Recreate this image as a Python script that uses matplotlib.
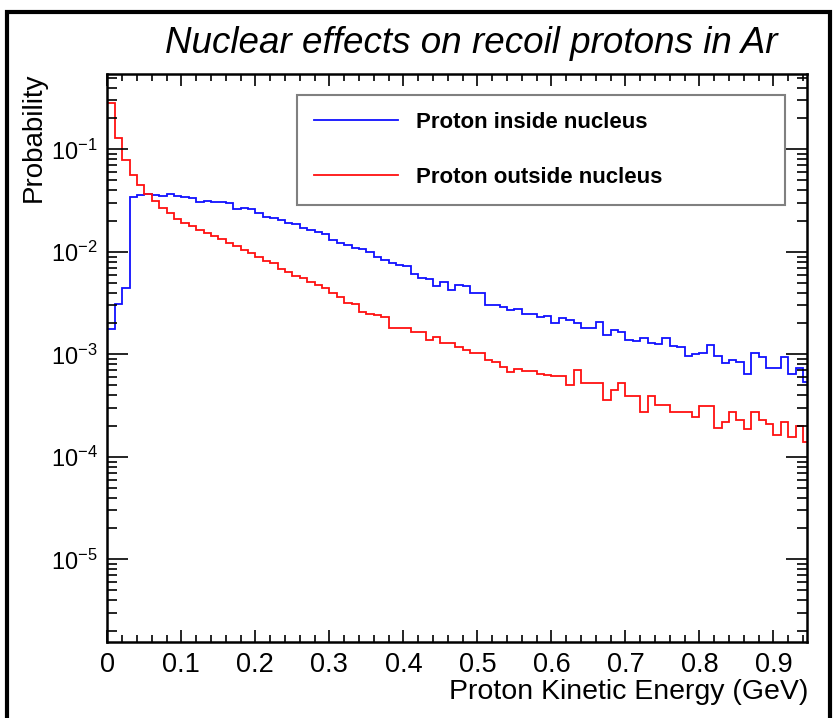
import numpy as np
import matplotlib.pyplot as plt
from matplotlib.patches import Rectangle
from matplotlib.ticker import FixedLocator, MultipleLocator, LogLocator, NullFormatter

plt.rcParams['font.family'] = ['Liberation Sans', 'DejaVu Sans']
plt.rcParams['mathtext.fontset'] = 'custom'
plt.rcParams['mathtext.rm'] = 'Liberation Sans'

# histogram contents, 0.01 GeV bins starting at 0
bin_width = 0.01
proton_inside = [
    0.00177, 0.0031, 0.0044, 0.034, 0.0358, 0.0367, 0.0358, 0.035, 0.0363, 0.035,
    0.034, 0.0332, 0.0308, 0.0316, 0.0308, 0.0305, 0.0297, 0.0263, 0.0267, 0.0263,
    0.024, 0.022, 0.0212, 0.0204, 0.019, 0.0185, 0.0169, 0.0165, 0.0157, 0.0149,
    0.013, 0.0121, 0.0116, 0.011, 0.0106, 0.010, 0.009, 0.0084, 0.0078, 0.0075,
    0.0072, 0.0061, 0.0056, 0.0054, 0.0046, 0.0051, 0.0042, 0.0047, 0.0046, 0.0040,
    0.0040, 0.0030, 0.00305, 0.0029, 0.0027, 0.0028, 0.0025, 0.00247, 0.00233, 0.00236,
    0.0020, 0.00224, 0.00216, 0.0020, 0.0018, 0.0018, 0.00208, 0.00154, 0.00173, 0.00166,
    0.00138, 0.00136, 0.00143, 0.0013, 0.00126, 0.00143, 0.0012, 0.00119, 0.00096, 0.00101,
    0.00102, 0.00123, 0.00096, 0.00083, 0.00089, 0.00085, 0.00065, 0.00104, 0.00095, 0.00073,
    0.00073, 0.00095, 0.00065, 0.00073, 0.00054,
]
proton_outside = [
    0.285, 0.128, 0.079, 0.056, 0.045, 0.037, 0.031, 0.027, 0.024, 0.021,
    0.019, 0.0178, 0.0165, 0.0152, 0.0142, 0.0132, 0.0123, 0.0114, 0.0105, 0.0097,
    0.0090, 0.0082, 0.0077, 0.0068, 0.0064, 0.0058, 0.0055, 0.0051, 0.0048, 0.0044,
    0.0040, 0.0036, 0.0032, 0.0031, 0.0026, 0.0025, 0.0024, 0.0023, 0.0018, 0.0018,
    0.00182, 0.00166, 0.00166, 0.00138, 0.00147, 0.0013, 0.0013, 0.00119, 0.0011, 0.00102,
    0.00102, 0.00089, 0.00085, 0.00076, 0.00068, 0.00072, 0.00069, 0.00069, 0.00065, 0.00063,
    0.00061, 0.00061, 0.0005, 0.00071, 0.00052, 0.00052, 0.00052, 0.00036, 0.00045, 0.00053,
    0.00039, 0.00039, 0.000275, 0.00039, 0.00032, 0.00032, 0.000275, 0.000275, 0.000275, 0.000243,
    0.00031, 0.00031, 0.00019, 0.00022, 0.000275, 0.00023, 0.000185, 0.000275, 0.00023, 0.00021,
    0.000163, 0.00022, 0.000157, 0.0002, 0.00014,
]
labels = ["Proton inside nucleus", "Proton outside nucleus"]
x_ticks = [0, 0.1, 0.2, 0.3, 0.4, 0.5, 0.6, 0.7, 0.8, 0.9]
x_tick_labels = ["0", "0.1", "0.2", "0.3", "0.4", "0.5", "0.6", "0.7", "0.8", "0.9"]
y_ticks = [1e-5, 1e-4, 1e-3, 1e-2, 1e-1]
y_tick_labels = [r"$\mathregular{10^{-5}}$", r"$\mathregular{10^{-4}}$", r"$\mathregular{10^{-3}}$",
                 r"$\mathregular{10^{-2}}$", r"$\mathregular{10^{-1}}$"]

edges = np.arange(len(proton_inside) + 1) * bin_width

fig = plt.figure(figsize=(8.34, 7.18), dpi=100)
ax = fig.add_axes([0.1287, 0.1054, 0.8386, 0.7915])

ax.stairs(proton_inside, edges, color="#1010ff", lw=1.3, label=labels[0])
ax.stairs(proton_outside, edges, color="#ff1010", lw=1.3, label=labels[1])

ax.set_yscale("log")
ax.set_xlim(0, 0.945)
ax.set_ylim(1.55e-6, 0.543)

ax.xaxis.set_major_locator(FixedLocator(x_ticks))
ax.set_xticklabels(x_tick_labels)
ax.xaxis.set_minor_locator(MultipleLocator(0.02))
ax.yaxis.set_major_locator(FixedLocator(y_ticks))
ax.set_yticklabels(y_tick_labels)
ax.yaxis.set_minor_locator(LogLocator(base=10, subs=np.arange(2, 10)))
ax.yaxis.set_minor_formatter(NullFormatter())

ax.tick_params(which="both", direction="in", top=True, right=True, width=1.2)
ax.tick_params(axis="x", which="major", length=8.5, labelsize=19.5, pad=7)
ax.tick_params(axis="x", which="minor", length=4.7)
ax.tick_params(axis="y", which="major", length=15, labelsize=17, pad=7)
ax.tick_params(axis="y", which="minor", length=7.5)
for s in ax.spines.values():
    s.set_linewidth(1.8)

leg = ax.legend(loc="upper left", bbox_to_anchor=(0.271, 0.963, 0.698, 0.0), mode="expand",
                borderaxespad=0, borderpad=0.76, labelspacing=1.52, handlelength=3.8,
                handletextpad=0.8, fancybox=False,
                prop={"size": 16, "weight": "bold"})
leg.get_frame().set_edgecolor("#606060")
leg.get_frame().set_linewidth(1.5)

fig.text(471 / 834, 1 - 53 / 718, "Nuclear effects on recoil protons in Ar",
         ha="center", va="baseline", style="italic", fontsize=26.5)
fig.text(34 / 834, 1 - 73 / 718, "Probability", rotation=90, ha="center", va="top", fontsize=20)
fig.text(808 / 834, 1 - 699 / 718, "Proton Kinetic Energy (GeV)", ha="right", va="baseline",
         fontsize=20.5)

# black slide frame around the figure
fig.patches.append(Rectangle((7 / 834, -0.05), 822.7 / 834, 1.05 - 12 / 718, transform=fig.transFigure,
                             fill=False, edgecolor="black", lw=3, clip_on=False))

fig.savefig("out.png", dpi=100)
